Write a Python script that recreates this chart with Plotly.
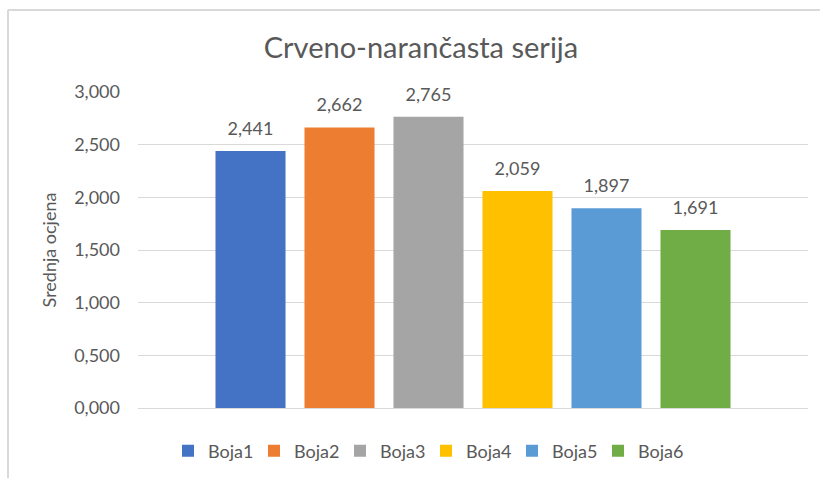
import plotly.graph_objects as go

series_names = ["Boja1", "Boja2", "Boja3", "Boja4", "Boja5", "Boja6"]
values = [2.441, 2.662, 2.765, 2.059, 1.897, 1.691]
colors = ["#4472C4", "#ED7D31", "#A5A5A5", "#FFC000", "#5B9BD5", "#70AD47"]
y_ticks = [0, 0.5, 1.0, 1.5, 2.0, 2.5, 3.0]

W, H = 820, 478
L, R, T, B = 138, 12, 92, 70
FONT = "Lato"
GREY = "#595959"
GAP = 0.203

fig = go.Figure()
for name, v, c in zip(series_names, values, colors):
    fig.add_trace(go.Bar(
        x=[""], y=[v], name=name,
        marker=dict(color=c, line=dict(width=0)),
        hoverinfo="name+y",
    ))
# value labels, grouped the same way as the bars (invisible anchor markers
# set the distance between bar top and label)
for name, v in zip(series_names, values):
    fig.add_trace(go.Scatter(
        x=[""], y=[v], mode="markers+text", showlegend=False,
        text=[f"{v:.3f}".replace(".", ",")],
        textposition="top center",
        marker=dict(size=17, color="rgba(0,0,0,0)"),
        textfont=dict(family=FONT, size=18, color=GREY),
        cliponaxis=False, hoverinfo="skip",
    ))

pw, ph = W - L - R, H - T - B
def px(x):
    return (x - L) / pw
def py(y):
    return (H - B - y) / ph

# chart frame (partially cropped at right/bottom)
fig.add_shape(type="line", xref="paper", yref="paper",
              x0=px(8), x1=px(820), y0=py(10), y1=py(10),
              line=dict(color="#d9d9d9", width=2))
fig.add_shape(type="line", xref="paper", yref="paper",
              x0=px(8), x1=px(8), y0=py(10), y1=py(478),
              line=dict(color="#d9d9d9", width=2))

fig.update_layout(
    width=W, height=H,
    margin=dict(l=L, r=R, t=T, b=B, autoexpand=False),
    paper_bgcolor="white", plot_bgcolor="white",
    separators=",.",
    barmode="group", bargap=GAP, bargroupgap=0.213,
    scattermode="group", scattergap=GAP,
    title=dict(text="Crveno-narančasta serija", x=421 / W, xref="container",
               xanchor="center", y=1 - 48 / H, yref="container", yanchor="middle",
               font=dict(family=FONT, size=29, color=GREY)),
    font=dict(family=FONT, size=18, color=GREY),
    showlegend=True,
    legend=dict(orientation="h", x=426 / W, xanchor="center", xref="container",
                y=1 - 451 / H, yanchor="middle", yref="container",
                font=dict(family=FONT, size=18, color=GREY),
                traceorder="normal", entrywidth=41, entrywidthmode="pixels",
                itemwidth=30, itemclick=False),
    xaxis=dict(showticklabels=False, showgrid=False, zeroline=False,
               showline=False, ticks=""),
    yaxis=dict(range=[0, 3.0], tickvals=y_ticks, tickformat=".3f",
               showgrid=True, gridcolor="#d9d9d9", gridwidth=1,
               zeroline=True, zerolinecolor="#d9d9d9", zerolinewidth=1,
               showline=False, ticks="", ticklen=0, ticklabelstandoff=17,
               tickfont=dict(family=FONT, size=18, color=GREY),
               title=dict(text="Srednja ocjena", standoff=12,
                          font=dict(family=FONT, size=18, color=GREY))),
)

fig.write_html("out.html")
